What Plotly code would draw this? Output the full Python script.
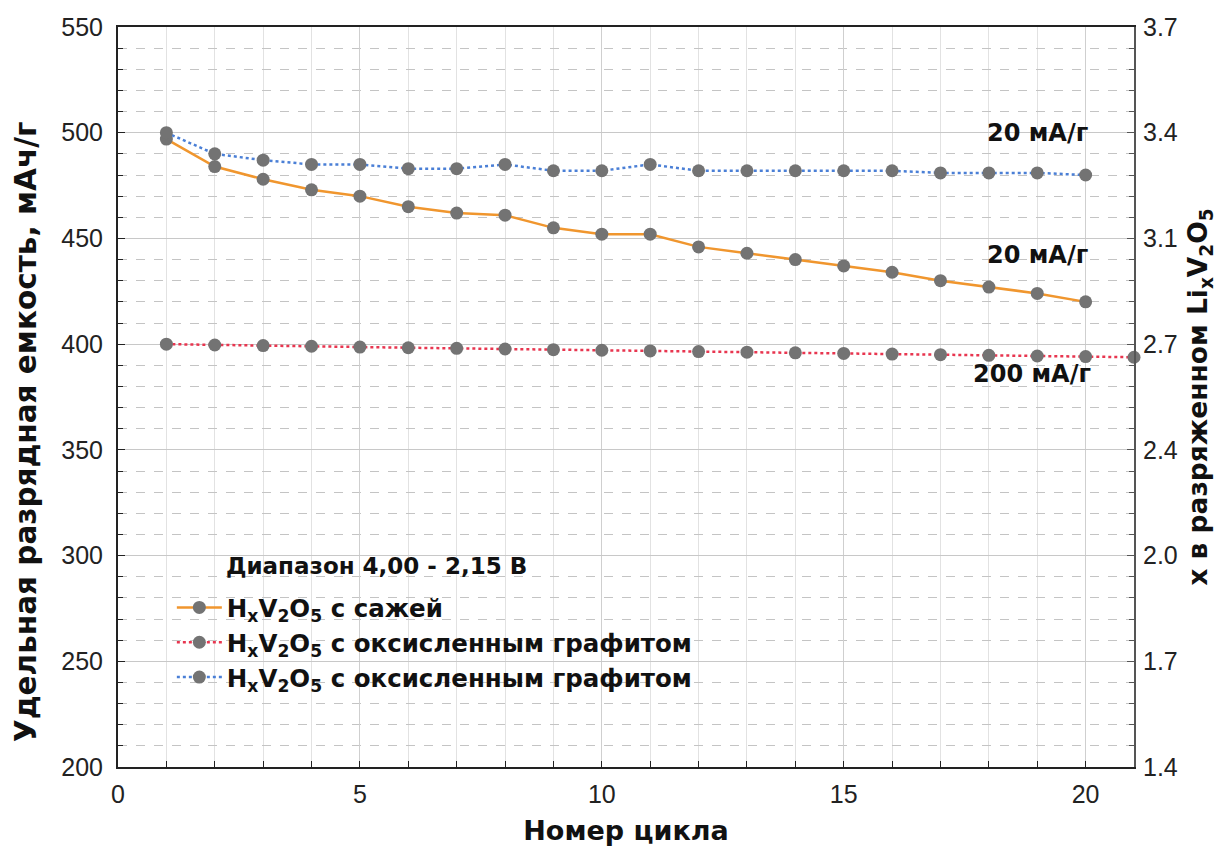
import plotly.graph_objects as go

cycles = list(range(1, 21))
cycles_red = list(range(1, 22))
soot = [497, 484, 478, 473, 470, 465, 462, 461, 455, 452, 452, 446, 443, 440, 437, 434, 430, 427, 424, 420]
graphite_200 = [400, 399.6, 399.3, 399.0, 398.6, 398.3, 398.0, 397.7, 397.4, 397.1, 396.8, 396.5, 396.2, 395.9, 395.6, 395.3, 395.0, 394.7, 394.4, 394.1, 393.8]
graphite_20 = [500, 490, 487, 485, 485, 483, 483, 485, 482, 482, 485, 482, 482, 482, 482, 482, 481, 481, 481, 480]

left_ticks = [200, 250, 300, 350, 400, 450, 500, 550]
right_labels = ["1.4", "1.7", "2.0", "2.4", "2.7", "3.1", "3.4", "3.7"]

legend_title = "Диапазон 4,00 - 2,15 В"
names = ["<b>H<sub>x</sub>V<sub>2</sub>O<sub>5</sub> с сажей</b>",
         "<b>H<sub>x</sub>V<sub>2</sub>O<sub>5</sub> с оксисленным графитом</b>",
         "<b>H<sub>x</sub>V<sub>2</sub>O<sub>5</sub> с оксисленным графитом</b>"]

FONT = "Liberation Sans"
BOLD = "DejaVu Sans"
marker = dict(color="#737373", size=13)

fig = go.Figure()
fig.add_trace(go.Scatter(x=cycles, y=soot, mode="lines+markers", name=names[0],
                         line=dict(color="#F0962E", width=2.5), marker=marker))
fig.add_trace(go.Scatter(x=cycles_red, y=graphite_200, mode="lines+markers", name=names[1],
                         line=dict(color="#E8354F", width=2.5, dash="dot"), marker=marker,
                         cliponaxis=False))
fig.add_trace(go.Scatter(x=cycles, y=graphite_20, mode="lines+markers", name=names[2],
                         line=dict(color="#4A7FD6", width=2.5, dash="dot"), marker=marker))
# invisible trace to activate the right axis
fig.add_trace(go.Scatter(x=[0, 21], y=[200, 550], yaxis="y2", mode="markers",
                         marker=dict(opacity=0), showlegend=False, hoverinfo="skip"))

fig.update_layout(
    width=1231, height=847,
    margin=dict(l=118, r=97, t=27, b=80),
    paper_bgcolor="white", plot_bgcolor="white",
    font=dict(family=FONT, size=25, color="#222"),
    showlegend=True,
    legend=dict(
        x=0.053, y=0.246, xanchor="left", yanchor="top",
        bgcolor="rgba(0,0,0,0)",
        font=dict(family=BOLD, size=24.5, color="#111"),
        itemwidth=45, tracegroupgap=0,
    ),
    xaxis=dict(
        range=[0, 21], tickvals=[0, 5, 10, 15, 20],
        showline=True, linecolor="#222", linewidth=2, mirror=True,
        ticks="inside", ticklen=6, tickcolor="#222", ticklabelstandoff=4,
        showgrid=True, gridcolor="#cfcfcf", gridwidth=1.2,
        minor=dict(dtick=1, tick0=0, ticks="inside", ticklen=6, tickcolor="#222",
                   showgrid=True, gridcolor="#e2e2e2", gridwidth=1),
        zeroline=False, automargin=False,
        title=dict(text="<b>Номер цикла</b>", font=dict(family=BOLD, size=27, color="#111"), standoff=14),
    ),
    yaxis=dict(
        range=[200, 550], tickvals=left_ticks,
        showline=True, linecolor="#222", linewidth=2,
        ticks="inside", ticklen=7, tickcolor="#222", ticklabelstandoff=8,
        showgrid=True, gridcolor="#c8c8c8", gridwidth=1.2,
        minor=dict(dtick=10, tick0=200, ticks="inside", ticklen=5, tickcolor="#222",
                   showgrid=True, gridcolor="#c4c4c4", griddash="dash", gridwidth=1),
        zeroline=False, automargin=False,
    ),
    yaxis2=dict(
        overlaying="y", side="right", range=[200, 550],
        tickvals=left_ticks, ticktext=right_labels,
        showline=True, linecolor="#555", linewidth=2,
        ticks="inside", ticklen=7, tickcolor="#555", ticklabelstandoff=2,
        showgrid=False, zeroline=False, automargin=False,
        minor=dict(dtick=10, tick0=200, ticks="inside", ticklen=5, tickcolor="#555", showgrid=False),
        title=dict(text="<b>x в разряженном Li<sub>x</sub>V<sub>2</sub>O<sub>5</sub></b>",
                   font=dict(family=BOLD, size=26.5, color="#111"), standoff=12),
    ),
)

# left axis title (placed as annotation to match its vertical offset)
fig.add_annotation(x=-0.0905, y=0.4527, xref="paper", yref="paper", xanchor="center", yanchor="middle",
                   text="<b>Удельная разрядная емкость, мАч/г</b>", textangle=-90, showarrow=False,
                   font=dict(family=BOLD, size=29.5, color="#111"))

fig.add_annotation(x=0.104, y=0.2716, xref="paper", yref="paper", xanchor="left", yanchor="middle",
                   text="<b>" + legend_title + "</b>", showarrow=False,
                   font=dict(family=BOLD, size=23, color="#111"))

annotations = [("<b>20 мА/г</b>", 19.0, 500), ("<b>20 мА/г</b>", 19.0, 442), ("<b>200 мА/г</b>", 18.9, 386)]
for txt, ax, ay in annotations:
    fig.add_annotation(x=ax, y=ay, text=txt, showarrow=False, font=dict(family=BOLD, size=24, color="#111"),
                       xref="x", yref="y")

fig.write_html("out.html")
